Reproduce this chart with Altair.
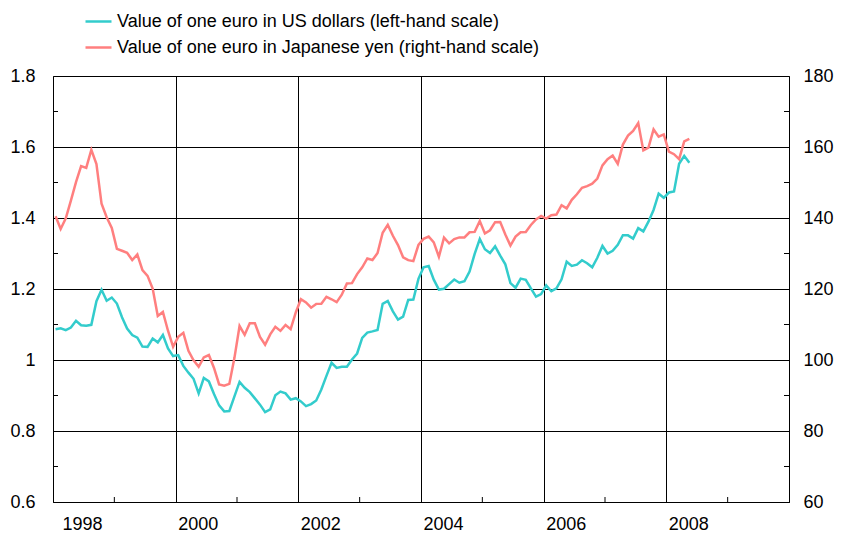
import altair as alt
import pandas as pd

START_YEAR = 1998
series_usd = "Value of one euro in US dollars (left-hand scale)"
series_jpy = "Value of one euro in Japanese yen (right-hand scale)"

usd = [
    1.0866, 1.0893, 1.0840, 1.0914, 1.1104, 1.0979, 1.0966, 1.0990, 1.1658, 1.1981, 1.1668, 1.1760,
    1.1591, 1.1203, 1.0886, 1.0701, 1.0630, 1.0377, 1.0370, 1.0605, 1.0497, 1.0706, 1.0328, 1.0110,
    1.0137, 0.9834, 0.9643, 0.9470, 0.9060, 0.9492, 0.9397, 0.9041, 0.8721, 0.8552, 0.8564, 0.8973,
    0.9383, 0.9217, 0.9095, 0.8920, 0.8742, 0.8532, 0.8607, 0.9005, 0.9111, 0.9059, 0.8883, 0.8924,
    0.8833, 0.8700, 0.8758, 0.8858, 0.9170, 0.9554, 0.9922, 0.9778, 0.9808, 0.9811, 1.0014, 1.0183,
    1.0622, 1.0773, 1.0807, 1.0848, 1.1582, 1.1663, 1.1372, 1.1139, 1.1222, 1.1692, 1.1702, 1.2286,
    1.2613, 1.2646, 1.2262, 1.1985, 1.2007, 1.2138, 1.2266, 1.2176, 1.2218, 1.2490, 1.2991, 1.3408,
    1.3119, 1.3014, 1.3201, 1.2938, 1.2694, 1.2165, 1.2037, 1.2292, 1.2256, 1.2015, 1.1786, 1.1856,
    1.2103, 1.1938, 1.2020, 1.2271, 1.2770, 1.2650, 1.2684, 1.2811, 1.2727, 1.2611, 1.2881, 1.3213,
    1.2999, 1.3074, 1.3242, 1.3516, 1.3511, 1.3419, 1.3716, 1.3622, 1.3896, 1.4227, 1.4684, 1.4570,
    1.4718, 1.4748, 1.5527, 1.5751, 1.5557,
]

jpy = [
    140.5, 136.9, 139.9, 144.9, 150.1, 154.6, 154.1, 159.2, 155.2, 144.0, 140.2, 137.2,
    131.32, 130.78, 130.20, 128.16, 129.71, 125.32, 123.71, 120.10, 112.39, 113.52, 108.25, 103.72,
    106.53, 107.64, 102.59, 99.92, 98.09, 100.71, 101.39, 97.77, 93.11, 92.75, 93.26, 100.61,
    109.57, 107.08, 110.33, 110.36, 106.50, 104.30, 107.21, 109.34, 108.20, 109.86, 108.68, 113.38,
    117.12, 116.23, 114.75, 115.81, 115.86, 117.80, 117.11, 116.31, 118.38, 121.57, 121.65, 124.20,
    126.12, 128.60, 128.16, 130.12, 135.83, 138.05, 134.99, 132.38, 128.94, 128.12, 127.84, 132.43,
    134.13, 134.78, 133.13, 129.08, 134.48, 132.86, 134.08, 134.54, 134.51, 135.97, 136.09, 139.14,
    135.63, 136.55, 138.83, 138.84, 135.37, 132.22, 134.75, 135.98, 136.06, 138.05, 139.59, 140.58,
    139.82, 140.77, 140.96, 143.59, 142.70, 145.11, 146.70, 148.53, 148.99, 149.65, 151.11, 154.82,
    156.56, 157.60, 155.24, 160.68, 163.22, 164.55, 166.76, 159.05, 159.82, 164.95, 162.89, 163.55,
    158.68, 157.97, 156.59, 161.56, 162.31,
]

year_ticks = [1998, 2000, 2002, 2004, 2006, 2008, 2010]
year_minor = [1999, 2001, 2003, 2005, 2007, 2009]
left_ticks = [0.6, 0.8, 1.0, 1.2, 1.4, 1.6, 1.8]
left_minor = [0.7, 0.9, 1.1, 1.3, 1.5, 1.7]
right_ticks = [60, 80, 100, 120, 140, 160, 180]
right_minor = [70, 90, 110, 130, 150, 170]

COLORS = ["#33CCCC", "#FF7F7F"]
FONT = "Liberation Sans"
W, H = 736, 426

t = [START_YEAR + (i + 0.5) / 12 for i in range(len(usd))]
df_usd = pd.DataFrame({"t": t, "usd": usd, "series": series_usd})
df_jpy = pd.DataFrame({"t": t[: len(jpy)], "jpy": jpy, "series": series_jpy})

x_enc = alt.X(
    "t:Q",
    scale=alt.Scale(domain=[1998, 2010], nice=False, zero=False),
    axis=alt.Axis(
        values=year_ticks, format="d",
        labelExpr="datum.value < 2010 ? datum.label : ''",
        labelAlign="left", labelFontSize=18, labelFont=FONT, labelColor="#000",
        labelOffset={"condition": {"test": "datum.value == 1998", "value": 9}, "value": 2},
        labelPadding=13, tickSize=0, grid=True, gridColor="#000", gridWidth=1,
        domainColor="#000", title=None,
    ),
)

y_left = alt.Y(
    "usd:Q",
    scale=alt.Scale(domain=[0.6, 1.8], nice=False, zero=False),
    axis=alt.Axis(
        values=left_ticks, format=".1~f", orient="left", labelFontSize=18,
        labelFont=FONT, labelColor="#000", labelPadding=18, tickSize=0,
        grid=True, gridColor="#000", gridWidth=1, domainColor="#000", title=None,
    ),
)

y_right = alt.Y(
    "jpy:Q",
    scale=alt.Scale(domain=[60, 180], nice=False, zero=False),
    axis=alt.Axis(
        values=right_ticks, format="d", orient="right", labelFontSize=18,
        labelFont=FONT, labelColor="#000", labelPadding=14, tickSize=0,
        grid=False, domainColor="#000", title=None,
    ),
)

color_enc = alt.Color(
    "series:N",
    scale=alt.Scale(domain=[series_usd, series_jpy], range=COLORS),
    legend=alt.Legend(
        title=None, orient="none", legendX=31, legendY=-69, direction="vertical",
        symbolType="stroke", symbolSize=676, symbolStrokeWidth=2.5,
        labelFontSize=18, labelFont=FONT, labelColor="#000", labelOffset=4,
        labelLimit=800, rowPadding=2, padding=0,
    ),
)

usd_line = alt.Chart(df_usd).mark_line(strokeWidth=2.5).encode(
    x=x_enc, y=y_left, color=color_enc,
)

left_minor_ticks = alt.Chart(pd.DataFrame({"usd": left_minor})).mark_rule(
    color="#000", strokeWidth=1
).encode(y=y_left, x=alt.value(0), x2=alt.value(5))

jpy_line = alt.Chart(df_jpy).mark_line(strokeWidth=2.5).encode(
    x=x_enc, y=y_right, color=color_enc,
)

right_minor_ticks = alt.Chart(pd.DataFrame({"jpy": right_minor})).mark_rule(
    color="#000", strokeWidth=1
).encode(y=y_right, x=alt.value(W - 5), x2=alt.value(W))

bottom_minor_ticks = alt.Chart(pd.DataFrame({"t": year_minor})).mark_rule(
    color="#000", strokeWidth=1
).encode(x=x_enc, y=alt.value(H - 5), y2=alt.value(H))

left_layer = alt.layer(usd_line, left_minor_ticks)
right_layer = alt.layer(jpy_line, right_minor_ticks)

chart = (
    alt.layer(left_layer, right_layer, bottom_minor_ticks)
    .resolve_scale(y="independent")
    .properties(
        width=W, height=H,
        padding={"left": 45, "top": 68, "right": 46, "bottom": 34},
        autosize=alt.AutoSizeParams(type="none"),
    )
    .configure_view(stroke=None)
    .configure(background="white")
)

chart.save("out.html", embed_options={"renderer": "svg", "actions": False})
